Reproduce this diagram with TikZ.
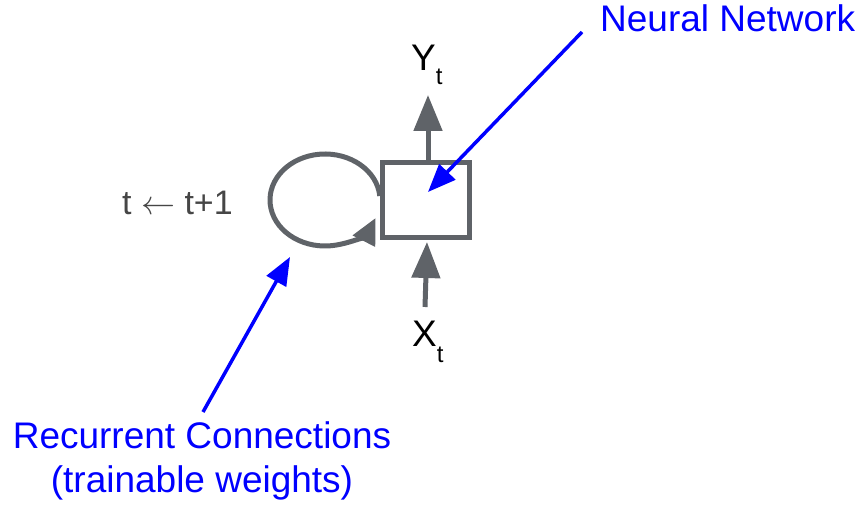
\RequirePackage{fix-cm}
\documentclass[tikz,border=0pt]{standalone}
\usepackage{fontspec}
\setmainfont{Liberation Sans}
\usetikzlibrary{arrows.meta,calc}
\definecolor{boxgray}{RGB}{95,99,104}
\definecolor{textgray}{RGB}{70,70,70}
\definecolor{noteblue}{RGB}{0,0,255}
\begin{document}
\begin{tikzpicture}[x=1pt,y=1pt,
  graybox/.style={draw=boxgray,line width=5pt,minimum width=87pt,minimum height=75pt,inner sep=0pt},
  grayarrow/.style={draw=boxgray,line width=5pt,-{Triangle[length=36pt,width=28pt]}},
  looparrow/.style={draw=boxgray,line width=5pt,-{Triangle[length=26pt,width=24pt]}},
  bluearrow/.style={draw=noteblue,line width=3.5pt,-{Triangle[length=28pt,width=22pt]}},
  bigtext/.style={font=\fontsize{37}{44}\selectfont,inner sep=0pt},
  bluetext/.style={bigtext,text=noteblue}]
\useasboundingbox (0,0) rectangle (862,505);
% network box
\node[graybox] (nn) at (426,305) {};
% output / input
\coordinate (ytip) at (428,410);
\coordinate (xtail) at (425,198);
\coordinate (xtip) at (427,263);
\draw[grayarrow] (nn.north -| ytip) -- (ytip);
\draw[grayarrow] (xtail) -- (xtip);
\node[bigtext,anchor=base west] (ylab) at (411,434) {Y\raisebox{-14pt}{\fontsize{24}{24}\selectfont t}};
\node[bigtext,anchor=base west] (xlab) at (412,158) {X\raisebox{-16pt}{\fontsize{24}{24}\selectfont t}};
% recurrent loop
\coordinate (loopstart) at ($(325,305)+(5:55pt and 46pt)$);
\draw[looparrow] (loopstart) arc[start angle=5,end angle=337,x radius=55,y radius=46];
\node[bigtext,font=\fontsize{34}{40}\selectfont,text=textgray,anchor=base west] (tlab) at (122,290) {t $\leftarrow$ t+1};
% annotations
\node[bluetext,anchor=base west] (nnlab) at (600,473) {Neural Network};
\coordinate (nntail) at (582,473);
\coordinate (nntip) at (428,313);
\draw[bluearrow] (nntail) -- (nntip);
\node[bluetext,align=center] (rclab) at (202,44) {Recurrent Connections\\(trainable weights)};
\coordinate (rctail) at (203,93);
\coordinate (rctip) at (290,248);
\draw[bluearrow] (rctail) -- (rctip);
\end{tikzpicture}
\end{document}
